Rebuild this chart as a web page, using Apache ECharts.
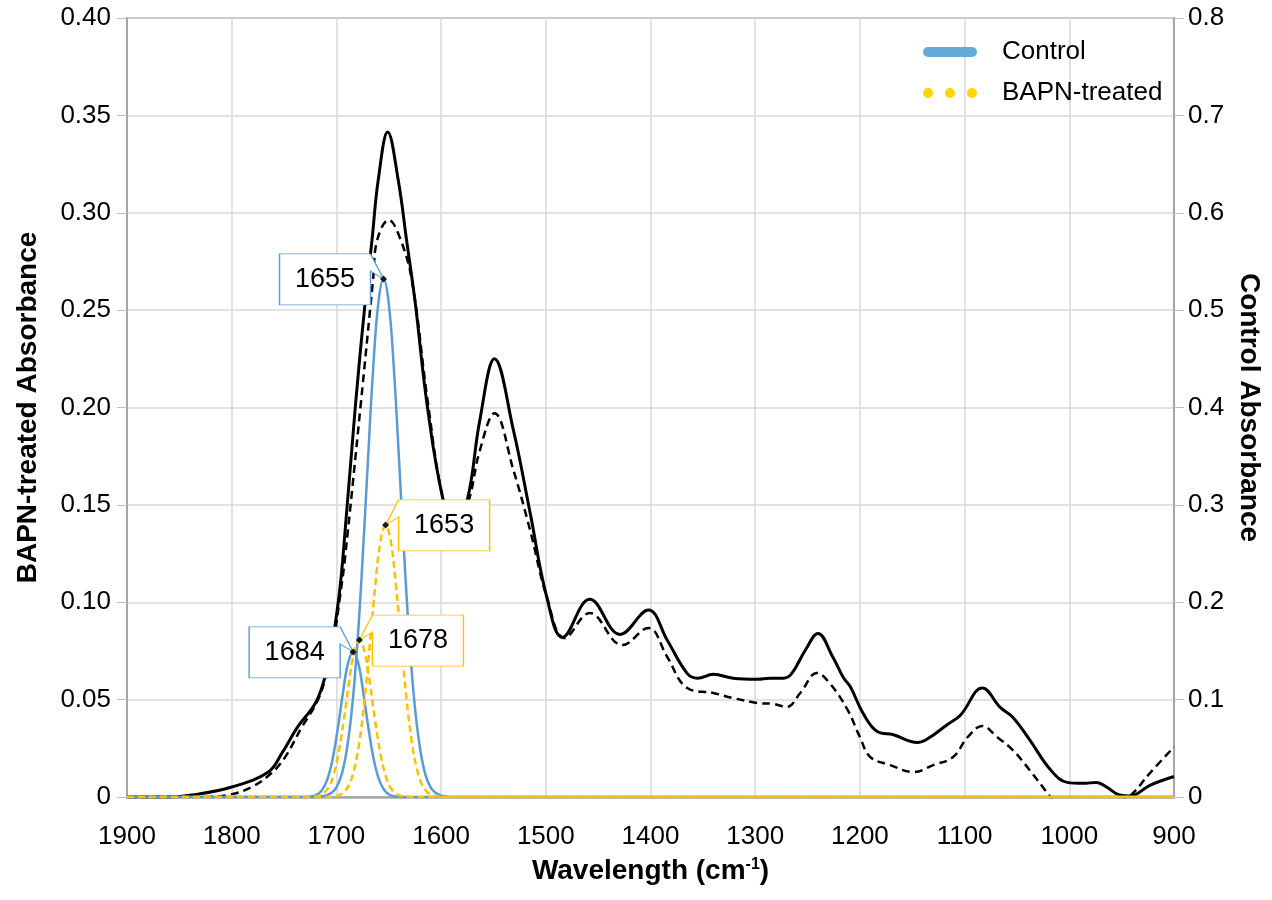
<!DOCTYPE html>
<html>
<head>
<meta charset="utf-8">
<title>FTIR spectra - Control vs BAPN-treated</title>
<script src="https://cdn.jsdelivr.net/npm/echarts@6.0.0/dist/echarts.min.js"></script>
<style>
  html, body { margin: 0; padding: 0; background: #fff; }
  #chart { width: 1272px; height: 900px; }
</style>
</head>
<body>
<div id="chart"></div>
<script>
// full spectra: control is read on the right axis, BAPN-treated on the left axis
const controlSpectrum = [
  [1900, 0], [1860, 0], [1838, 0.002], [1800, 0.0103], [1765, 0.0257], [1752, 0.045],
  [1737, 0.072], [1720, 0.0965], [1711, 0.123], [1704, 0.158], [1698, 0.202], [1694, 0.243],
  [1682, 0.400], [1673, 0.503], [1666, 0.572], [1660, 0.634], [1651, 0.683], [1641, 0.634],
  [1633, 0.572], [1625, 0.510], [1613, 0.400], [1598, 0.305], [1587, 0.279], [1575, 0.305],
  [1563, 0.387], [1549, 0.450], [1531, 0.377], [1515, 0.292], [1499, 0.205], [1484, 0.164],
  [1458, 0.203], [1429, 0.167], [1402, 0.192], [1384, 0.161], [1365, 0.127], [1355, 0.122],
  [1340, 0.126], [1321, 0.122], [1298, 0.121], [1286, 0.122], [1273, 0.122], [1265, 0.127],
  [1252, 0.151], [1240, 0.168], [1226, 0.144], [1216, 0.123], [1209, 0.113], [1197, 0.086],
  [1183, 0.067], [1168, 0.064], [1145, 0.056], [1135, 0.060], [1117, 0.074], [1104, 0.084],
  [1083, 0.112], [1066, 0.092], [1054, 0.082], [1038, 0.059], [1018, 0.028], [1002, 0.015],
  [987, 0.014], [974, 0.015], [964, 0.010], [952, 0.002], [942, 0.001], [923, 0.012], [900, 0.021]
];
const bapnSpectrum = [
  [1900, 0], [1830, 0], [1804, 0.001], [1781, 0.0051], [1762, 0.0123], [1749, 0.0205],
  [1733, 0.0359], [1719, 0.0483], [1711, 0.0601], [1703, 0.0791], [1697, 0.1012], [1692, 0.1217],
  [1677, 0.2003], [1665, 0.2655], [1661, 0.286], [1650, 0.2963], [1640, 0.288], [1628, 0.2655],
  [1613, 0.204], [1598, 0.1525], [1587, 0.141], [1575, 0.150], [1563, 0.178], [1549, 0.197],
  [1531, 0.168], [1515, 0.137], [1499, 0.1027], [1482, 0.0816], [1458, 0.0945], [1427, 0.078],
  [1402, 0.0868], [1384, 0.0719], [1365, 0.056], [1340, 0.0534], [1321, 0.0508], [1298, 0.0483],
  [1283, 0.0478], [1270, 0.0462], [1257, 0.0534], [1241, 0.0637], [1229, 0.0585], [1212, 0.045],
  [1200, 0.0308], [1190, 0.0205], [1171, 0.0164], [1149, 0.0128], [1130, 0.0164],
  [1111, 0.0205], [1097, 0.0308], [1083, 0.0365], [1069, 0.0308], [1054, 0.0241], [1038, 0.0139],
  [1018, 0], [1000, -0.012], [975, -0.012], [955, -0.003], [942, 0.0005], [923, 0.0123], [900, 0.0257]
];

// fitted amide I bands
const controlBand1655 = [
  [1900, 0], [1720, 0], [1715, 0.0005], [1710, 0.0015], [1705, 0.004], [1700, 0.010],
  [1695, 0.023], [1690, 0.049], [1685, 0.092], [1680, 0.157], [1675, 0.244], [1670, 0.343],
  [1665, 0.438], [1660, 0.507], [1655, 0.532], [1650, 0.507], [1645, 0.438], [1640, 0.343],
  [1635, 0.244], [1630, 0.157], [1625, 0.092], [1620, 0.049], [1615, 0.023], [1610, 0.010],
  [1605, 0.004], [1600, 0.0015], [1595, 0.0005], [1590, 0], [900, 0]
];
const controlBand1684 = [
  [1900, 0], [1734, 0], [1729, 0.0001], [1724, 0.0006], [1719, 0.0021], [1714, 0.0066],
  [1709, 0.017], [1704, 0.037], [1699, 0.068], [1694, 0.105], [1689, 0.137], [1684, 0.149],
  [1679, 0.137], [1674, 0.105], [1669, 0.068], [1664, 0.037], [1659, 0.017], [1654, 0.0066],
  [1649, 0.0021], [1644, 0.0006], [1639, 0.0001], [1634, 0], [900, 0]
];
const bapnBand1653 = [
  [1900, 0], [1708, 0], [1703, 0.0002], [1698, 0.0008], [1693, 0.0024], [1688, 0.0061],
  [1683, 0.0141], [1678, 0.0284], [1673, 0.0503], [1668, 0.0787], [1663, 0.108], [1658, 0.131],
  [1653, 0.1397], [1648, 0.131], [1643, 0.108], [1638, 0.0787], [1633, 0.0503], [1628, 0.0284],
  [1623, 0.0141], [1618, 0.0061], [1613, 0.0024], [1608, 0.0008], [1603, 0.0002], [1598, 0], [900, 0]
];
const bapnBand1678 = [
  [1900, 0], [1728, 0], [1723, 0.0001], [1718, 0.0005], [1713, 0.0016], [1708, 0.0045],
  [1703, 0.0109], [1698, 0.0224], [1693, 0.0392], [1688, 0.0585], [1683, 0.0744], [1678, 0.0806],
  [1673, 0.0744], [1668, 0.0585], [1663, 0.0392], [1658, 0.0224], [1653, 0.0109], [1648, 0.0045],
  [1643, 0.0016], [1638, 0.0005], [1633, 0.0001], [1628, 0], [900, 0]
];

const FONT = '"Liberation Sans", Arial, sans-serif';
const BLUE = '#5b9bd5';
const GOLD = '#ffc000';

// speech-bubble boxes, tail tip sits on the peak
const CALLOUT_LEFT = 'path://M0,0H91L104,25L91,17V51H0Z';
const CALLOUT_RIGHT = 'path://M13,0H104V51H13V17L0,25Z';
const LEGEND_PILL = 'path://M5,0H49A5,5 0 0,1 49,10H5A5,5 0 0,1 5,0Z';
const LEGEND_DOTS = 'path://M0,5a5,5 0 1,0 10,0a5,5 0 1,0 -10,0zM22,5a5,5 0 1,0 10,0a5,5 0 1,0 -10,0zM44,5a5,5 0 1,0 10,0a5,5 0 1,0 -10,0z';

function peakOf(band) {
  return band.reduce((a, b) => (b[1] > a[1] ? b : a));
}

function callout(band, side, color) {
  const p = peakOf(band);
  const left = side === 'left';
  return {
    silent: true,
    animation: false,
    data: [
      {
        name: String(p[0]),
        coord: p,
        symbol: left ? CALLOUT_LEFT : CALLOUT_RIGHT,
        symbolSize: [104, 51],
        symbolOffset: [left ? -52 : 52, 0.5],
        itemStyle: { color: '#fff', borderColor: color, borderWidth: 1 },
        label: {
          show: true,
          position: 'inside',
          formatter: '{b}',
          offset: [left ? -6.5 : 6.5, 0],
          fontFamily: FONT,
          fontSize: 27,
          color: '#000'
        }
      },
      {
        coord: p,
        symbol: 'diamond',
        symbolSize: 7,
        itemStyle: { color: '#1a1a1a', borderWidth: 0 },
        label: { show: false }
      }
    ]
  };
}

function band(name, data, axis, color, dashed, side) {
  return {
    name: name,
    type: 'line',
    yAxisIndex: axis,
    data: data,
    smooth: 0.4,
    symbol: 'none',
    z: dashed ? 4 : 3,
    lineStyle: { color: color, width: 2.5, type: dashed ? [7, 4] : 'solid' },
    itemStyle: { color: color },
    markPoint: callout(data, side, color)
  };
}

const chart = echarts.init(document.getElementById('chart'));

const option = {
  animation: false,
  backgroundColor: '#fff',
  grid: {
    left: 127, right: 98, top: 18, bottom: 103,
    show: true, borderColor: '#a6a6a6', borderWidth: 2,
    outerBoundsMode: 'none'
  },
  legend: {
    orient: 'vertical',
    left: 918,
    top: 32,
    itemWidth: 54,
    itemHeight: 10,
    itemGap: 11,
    selectedMode: false,
    textStyle: { fontFamily: FONT, fontSize: 26, color: '#000', lineHeight: 30, padding: [0, 0, 0, 20] },
    data: [
      { name: 'Control', icon: LEGEND_PILL, itemStyle: { color: '#64acd8', borderWidth: 0 } },
      { name: 'BAPN-treated', icon: LEGEND_DOTS, itemStyle: { color: '#ffd500', borderWidth: 0 } }
    ]
  },
  xAxis: {
    type: 'value',
    min: 900,
    max: 1900,
    interval: 100,
    inverse: true,
    name: 'Wavelength (cm{sup|-1})',
    nameLocation: 'middle',
    nameGap: 60,
    nameTextStyle: {
      fontFamily: FONT, fontSize: 28, fontWeight: 'bold', color: '#000',
      rich: {
        sup: { fontFamily: FONT, fontSize: 16, fontWeight: 'bold', color: '#000', verticalAlign: 'top', lineHeight: 20 }
      }
    },
    axisLine: { show: true, lineStyle: { color: '#a6a6a6', width: 2.5 } },
    axisTick: { show: false },
    axisLabel: {
      fontFamily: FONT, fontSize: 26, color: '#000', margin: 27,
      formatter: v => String(v)
    },
    splitLine: { show: true, lineStyle: { color: '#d9d9d9', width: 1.5 } }
  },
  yAxis: [
    {
      type: 'value',
      position: 'left',
      min: 0,
      max: 0.4,
      interval: 0.05,
      name: 'BAPN-treated Absorbance',
      nameLocation: 'middle',
      nameGap: 85,
      nameTextStyle: { fontFamily: FONT, fontSize: 28, fontWeight: 'bold', color: '#000' },
      axisLine: { show: true, lineStyle: { color: '#a6a6a6', width: 2 } },
      axisTick: { show: true, length: 10, lineStyle: { color: '#bfbfbf' } },
      axisLabel: {
        fontFamily: FONT, fontSize: 26, color: '#000', margin: 16,
        formatter: v => (v === 0 ? '0' : v.toFixed(2))
      },
      splitLine: { show: true, lineStyle: { color: '#d9d9d9', width: 1.5 } }
    },
    {
      type: 'value',
      position: 'right',
      min: 0,
      max: 0.8,
      interval: 0.1,
      name: 'Control Absorbance',
      nameLocation: 'middle',
      nameRotate: -90,
      nameGap: 57,
      nameTextStyle: { fontFamily: FONT, fontSize: 28, fontWeight: 'bold', color: '#000' },
      axisLine: { show: true, lineStyle: { color: '#a6a6a6', width: 2 } },
      axisTick: { show: true, length: 10, lineStyle: { color: '#bfbfbf' } },
      axisLabel: {
        fontFamily: FONT, fontSize: 26, color: '#000', margin: 14,
        formatter: v => (v === 0 ? '0' : v.toFixed(1))
      },
      splitLine: { show: false }
    }
  ],
  series: [
    {
      name: 'Control spectrum',
      type: 'line',
      yAxisIndex: 1,
      data: controlSpectrum,
      smooth: 0.4,
      symbol: 'none',
      z: 2,
      lineStyle: { color: '#000', width: 3 }
    },
    {
      name: 'BAPN-treated spectrum',
      type: 'line',
      yAxisIndex: 0,
      data: bapnSpectrum,
      smooth: 0.4,
      symbol: 'none',
      z: 2,
      lineStyle: { color: '#000', width: 2.5, type: [8, 5] }
    },
    band('Control', controlBand1655, 1, BLUE, false, 'left'),
    band('Control', controlBand1684, 1, BLUE, false, 'left'),
    band('BAPN-treated', bapnBand1653, 0, GOLD, true, 'right'),
    band('BAPN-treated', bapnBand1678, 0, GOLD, true, 'right')
  ]
};

chart.setOption(option);
</script>
</body>
</html>
